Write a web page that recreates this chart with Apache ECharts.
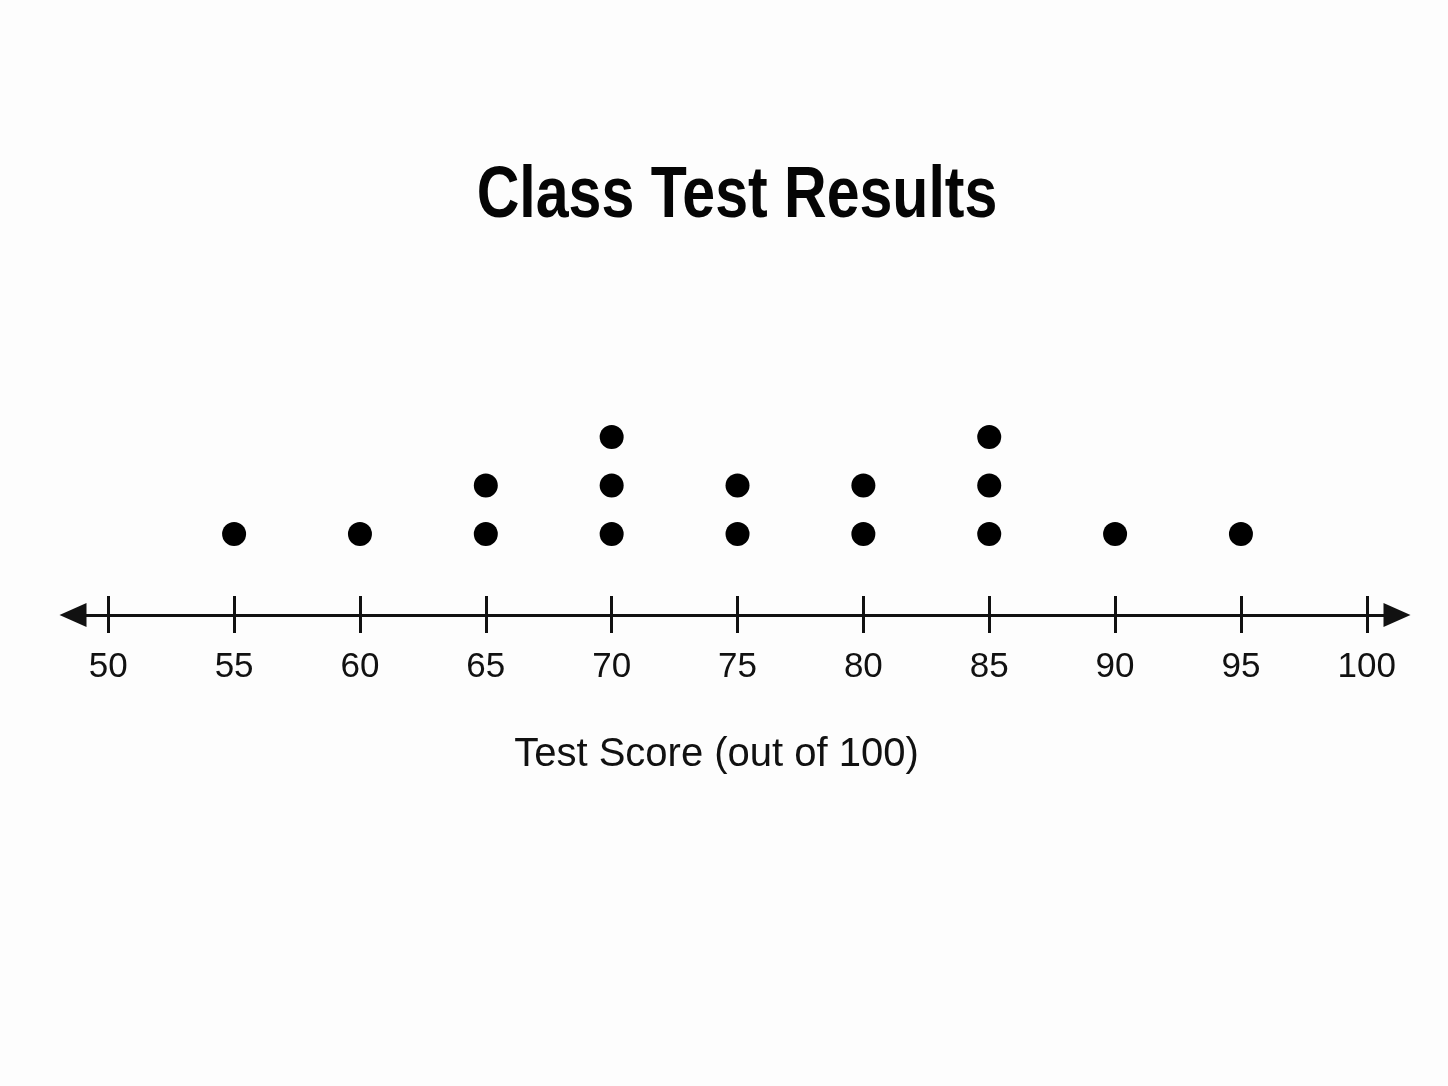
<!DOCTYPE html>
<html>
<head>
<meta charset="utf-8">
<script src="https://cdn.jsdelivr.net/npm/echarts@6/dist/echarts.min.js"></script>
<style>
html,body{margin:0;padding:0;background:#fdfdfd;}
#chart{width:1448px;height:1086px;}
</style>
</head>
<body>
<div id="chart"></div>
<script>
const titleText = 'Class Test Results';
const axisName = 'Test Score (out of 100)';
const scores = [55, 60, 65, 70, 75, 80, 85, 90, 95];
const counts = [1, 1, 2, 3, 2, 2, 3, 1, 1];
const tickValues = [50, 55, 60, 65, 70, 75, 80, 85, 90, 95, 100];

const points = [];
scores.forEach(function (s, i) {
  for (let k = 1; k <= counts[i]; k++) points.push([s, k]);
});

const chart = echarts.init(document.getElementById('chart'));
const labelFont = '"Liberation Sans", Arial, Helvetica, sans-serif';
chart.setOption({
  backgroundColor: '#fdfdfd',
  animation: false,
  graphic: [{
    type: 'text',
    x: 737,
    y: 197,
    scaleX: 0.82,
    style: {
      text: titleText,
      fontFamily: '"Liberation Sans", Arial, sans-serif',
      fontWeight: 'bold',
      fontSize: 72,
      fill: '#050505',
      align: 'center',
      verticalAlign: 'middle'
    }
  }],
  grid: { left: 73, right: 51, top: 388.5, bottom: 471 },
  xAxis: [
    {
      type: 'value',
      min: 48.6,
      max: 101.2,
      position: 'bottom',
      splitLine: { show: false },
      axisLine: {
        show: true,
        onZero: false,
        symbol: ['triangle', 'triangle'],
        symbolSize: [24, 27],
        lineStyle: { color: '#111', width: 3 }
      },
      axisTick: {
        show: true,
        inside: false,
        length: 18,
        customValues: tickValues,
        lineStyle: { color: '#111', width: 3 }
      },
      axisLabel: {
        show: true,
        customValues: tickValues,
        margin: 35,
        fontFamily: labelFont,
        fontSize: 35,
        color: '#111'
      },
      name: axisName,
      nameLocation: 'middle',
      nameGap: 120,
      nameTextStyle: {
        fontFamily: labelFont,
        fontSize: 40,
        color: '#111',
        padding: [0, 37, 0, 0]
      }
    },
    {
      type: 'value',
      min: 48.6,
      max: 101.2,
      position: 'bottom',
      splitLine: { show: false },
      axisLine: { show: false, onZero: false },
      axisTick: {
        show: true,
        inside: true,
        length: 19,
        customValues: tickValues,
        lineStyle: { color: '#111', width: 3 }
      },
      axisLabel: { show: false }
    }
  ],
  yAxis: {
    type: 'value',
    min: -0.67,
    max: 4,
    show: false
  },
  series: [{
    type: 'scatter',
    xAxisIndex: 0,
    data: points,
    symbol: 'circle',
    symbolSize: 24,
    itemStyle: { color: '#000', opacity: 1 }
  }]
});
</script>
</body>
</html>
